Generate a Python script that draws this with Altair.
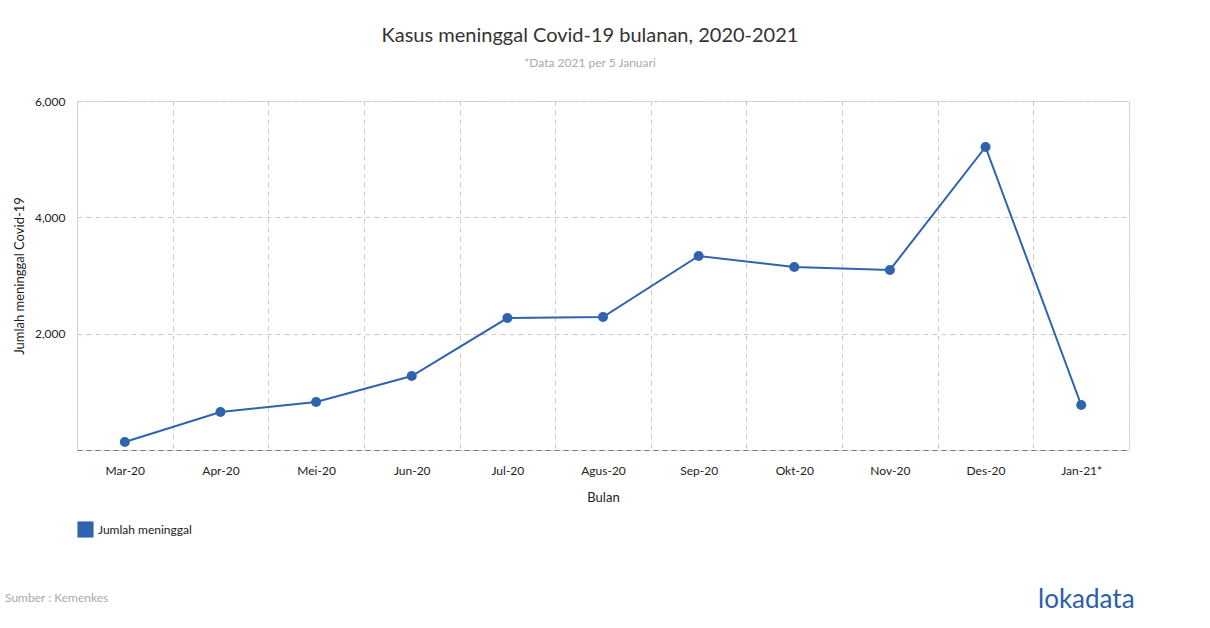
import altair as alt
import pandas as pd

months = ["Mar-20", "Apr-20", "Mei-20", "Jun-20", "Jul-20", "Agus-20",
          "Sep-20", "Okt-20", "Nov-20", "Des-20", "Jan-21*"]
deaths = [137, 653, 825, 1272, 2269, 2287, 3335, 3146, 3095, 5209, 774]
series = "Jumlah meninggal"

df = pd.DataFrame({"Bulan": months, "Jumlah": deaths, "Seri": [series] * len(months)})

BLUE = "#2e64ae"
FONT = "Lato"

x = alt.X("Bulan:O", sort=months, title="Bulan",
          scale=alt.Scale(paddingInner=0, paddingOuter=0),
          axis=alt.Axis(labelAngle=0, tickBand="extent", grid=True, ticks=False,
                        domain=True, domainColor="#777777", domainDash=[5, 4],
                        domainWidth=1.2,
                        gridColor="#cccccc", gridDash=[5, 4],
                        labelPadding=15, labelFontSize=12, labelColor="#222222",
                        titleFontSize=13, titleFontWeight="normal", titleColor="#222222",
                        titlePadding=15, labelFont=FONT, titleFont=FONT))
y = alt.Y("Jumlah:Q", title="Jumlah meninggal Covid-19",
          scale=alt.Scale(domain=[0, 6000], nice=False),
          axis=alt.Axis(values=[0, 2000, 4000, 6000],
                        labelExpr="datum.value == 0 ? '' : format(datum.value, ',')",
                        domain=False, ticks=False, grid=True,
                        gridColor="#cccccc", gridDash=[5, 4],
                        labelPadding=12, labelFontSize=12, labelColor="#222222",
                        titleFontSize=13, titleFontWeight="normal", titleColor="#222222",
                        titlePadding=8, labelFont=FONT, titleFont=FONT))

color = alt.Color("Seri:N", scale=alt.Scale(range=[BLUE]),
                  legend=alt.Legend(title=None, orient="none", legendX=0, legendY=420,
                                    symbolType="square", symbolSize=260,
                                    symbolStrokeWidth=0, labelFontSize=12,
                                    labelFont=FONT, labelColor="#222222"))

line = alt.Chart(df).mark_line(strokeWidth=2, color=BLUE).encode(x=x, y=y)
points = alt.Chart(df).mark_circle(size=100, opacity=1).encode(x=x, y=y, color=color)

src = alt.Chart(pd.DataFrame({"t": ["Sumber : Kemenkes"]})).mark_text(
    align="left", baseline="middle", fontSize=12, font=FONT, color="#aaaaaa"
).encode(x=alt.value(-72), y=alt.value(497), text="t:N")

logo = alt.Chart(pd.DataFrame({"t": ["lokadata"]})).mark_text(
    align="left", baseline="middle", fontSize=26, font=FONT, color="#2b5ea8"
).encode(x=alt.value(961), y=alt.value(499), text="t:N")

chart = alt.layer(line, points, src, logo).properties(
    width=1052, height=349,
    padding={"left": 77, "top": 101, "right": 81, "bottom": 178},
    autosize=alt.AutoSizeParams(type="none"),
    title=alt.TitleParams(
        "Kasus meninggal Covid-19 bulanan, 2020-2021",
        subtitle="*Data 2021 per 5 Januari",
        anchor="middle", frame="group", dx=-13, offset=26,
        font=FONT, fontSize=20, fontWeight="normal", color="#333333",
        subtitleFont=FONT, subtitleFontSize=12, subtitleColor="#aaaaaa",
        subtitlePadding=12),
).configure_view(stroke=None).configure(background="white")

chart.save("out.html", embed_options={"renderer": "svg", "actions": False})
